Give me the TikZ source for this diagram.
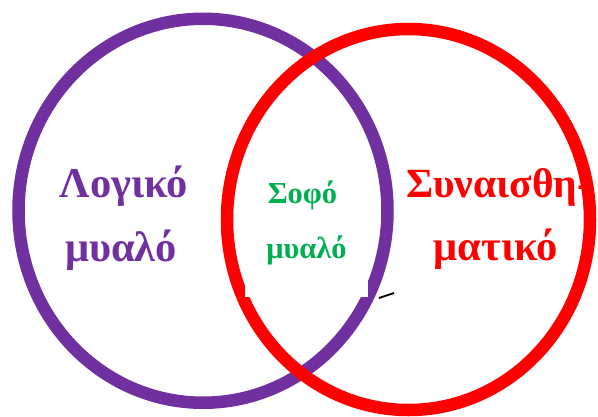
\documentclass[tikz,border=0pt]{standalone}
\usepackage{fontspec}
\setmainfont{Liberation Serif}
\definecolor{lpurple}{HTML}{7030A0}
\definecolor{lred}{HTML}{FF0000}
\definecolor{lgreen}{HTML}{00B050}
\begin{document}
\begin{tikzpicture}[x=1pt,y=-1pt,
  ring/.style={line width=12.5pt},
  bigtxt/.style={font=\fontsize{42.5}{50}\selectfont\bfseries, inner sep=0pt, anchor=base},
  smalltxt/.style={font=\fontsize{30.5}{36}\selectfont\bfseries, inner sep=0pt, anchor=base}]
\useasboundingbox (0,0) rectangle (598,416);
\coordinate (pc) at (203,210.75);
\coordinate (rc) at (408.5,219.5);
\draw[ring, lpurple] (pc) ellipse [x radius=184.5, y radius=192];
\draw[ring, lred] (rc) ellipse [x radius=181.5, y radius=190.5];
\node[fill=white, draw=none, minimum width=123pt, minimum height=127pt, inner sep=0pt, anchor=north west] (box) at (245,170) {};
\node[bigtxt, text=lpurple] (l1) at (124,197) {Λογικό};
\node[bigtxt, text=lpurple] (l2) at (121,261) {μυαλό};
\node[smalltxt, text=lgreen] (s1) at (302.5,203) {Σοφό};
\node[smalltxt, text=lgreen] (s2) at (306.5,258) {μυαλό};
\node[bigtxt, text=lred, anchor=base west, font=\fontsize{41.5}{50}\selectfont\bfseries] (e1) at (406,197) {Συναισθη-};
\node[bigtxt, text=lred] (e2) at (496,260) {ματικό};
\coordinate (m1) at (379,298);
\coordinate (m2) at (394,293);
\draw[line width=1.8pt] (m1) -- (m2);
\end{tikzpicture}
\end{document}
